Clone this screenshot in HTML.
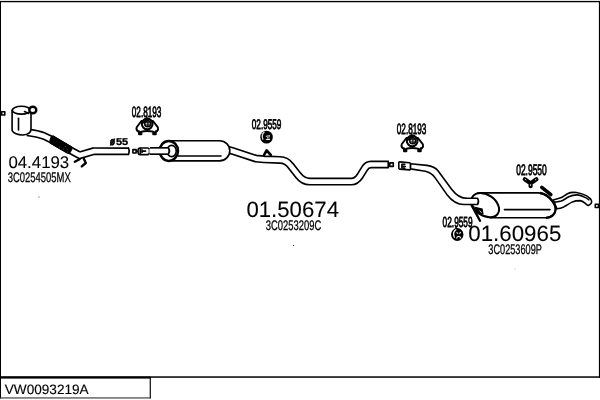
<!DOCTYPE html>
<html>
<head>
<meta charset="utf-8">
<title>VW0093219A</title>
<style>
html,body{margin:0;padding:0;background:#fff;}
body{width:600px;height:400px;overflow:hidden;position:relative;font-family:"Liberation Sans",sans-serif;}
svg{position:absolute;left:0;top:0;display:block;will-change:transform;}
svg text{font-family:"Liberation Sans",sans-serif;fill:#000;text-rendering:geometricPrecision;}
.t1{stroke:#000;stroke-width:0.8;}
.t2{stroke:#000;stroke-width:0.3;}
.t3{stroke:#000;stroke-width:0.08;}
.t4{stroke:#000;stroke-width:0.15;}
.po{fill:none;stroke:#000;stroke-width:8;stroke-linecap:butt;stroke-linejoin:round;}
.pi{fill:none;stroke:#fff;stroke-width:4.7;stroke-linecap:butt;stroke-linejoin:round;}
.l{fill:none;stroke:#000;stroke-width:1.6;stroke-linecap:round;stroke-linejoin:round;}
.lw{fill:#fff;stroke:#000;stroke-width:1.6;stroke-linecap:round;stroke-linejoin:round;}
.k{fill:none;stroke:#000;stroke-width:2.4;stroke-linecap:round;stroke-linejoin:round;}
</style>
</head>
<body>
<svg width="600" height="400" viewBox="0 0 600 400">
<!-- frame -->
<rect x="0" y="0.9" width="600" height="1.35" fill="#000"/>
<rect x="0" y="1" width="1" height="397.500" fill="#000"/>
<rect x="598.900" y="1" width="1.100" height="376.800" fill="#000"/>
<rect x="0" y="376.300" width="600" height="1.500" fill="#000"/>
<rect x="0" y="376.600" width="150.800" height="2" fill="#000"/>
<rect x="149.700" y="377" width="1.150" height="21.400" fill="#000"/>
<rect x="0" y="397.400" width="150.800" height="1.100" fill="#333"/>
<text x="4.8" y="393.8" font-size="13.6" class="t4">VW0093219A</text>

<!-- small edge squares -->
<rect x="1.6" y="111.8" width="3.2" height="3.2" class="lw" stroke-width="1"/>
<rect x="595.3" y="204.3" width="3.2" height="3.2" class="lw" stroke-width="1"/>
<rect x="38.5" y="196.500" width="1" height="1" fill="#444"/>
<rect x="293" y="245" width="1" height="1" fill="#111"/>
<rect x="514.600" y="268.600" width="0.900" height="0.900" fill="#999"/>

<!-- ===== front pipe (04.4193) ===== -->
<path class="po" d="M27,132.3 C33,133 39,134 44,136 L51.5,139.7 L70.3,150.3 L79.6,155.3 L93.6,151.2 L129,151.25"/>
<path class="pi" d="M27,132.3 C33,133 39,134 44,136 L51.5,139.7 L70.3,150.3 L79.6,155.3 L93.6,151.2 L128.6,151.25"/>
<path class="l" d="M128.6,148.1 Q130.2,151.25 128.6,154.4"/>
<!-- flex -->
<path d="M53.2,135.8 L71.4,146.6 L71.8,149.6 L69.6,153.4 L66.800,153 L49.800,143 L50,140 L51.200,136.600 Z" fill="#000" stroke="#000" stroke-width="1" stroke-linejoin="round"/>
<path d="M59.2,146.8 l0.6,0.4 M63.400,148.800 l0.6,0.4 M65.200,146.2 l0.600,0.4 M66.800,149.200 l0.600,0.300 M67.2,151.800 l0.500,0.300" stroke="#ccc" stroke-width="0.6" fill="none"/>
<!-- hanger bracket -->
<path class="k" d="M74.8,161.8 L79.6,159.2 M81.8,166.4 L85.8,163 L83.8,158.8" stroke-width="2.6"/>

<!-- catalytic / cylinder -->
<path class="lw" d="M12.1,110 L12.1,130.6 C13,133.2 18,135.2 23,135 C28,134.6 31,132.4 31,129 L31,112 Z"/>
<ellipse cx="21.4" cy="110.2" rx="9.1" ry="3.9" class="lw"/>
<ellipse cx="32.8" cy="110" rx="3.5" ry="3.3" fill="#fff" stroke="#000" stroke-width="2.4"/>
<path class="l" d="M24.5,111.6 L28.6,113.4"/>
<path class="l" d="M18.5,118.2 L18.5,130"/>

<!-- ø55 -->
<text x="109.900" y="144.800" font-size="11" font-weight="bold" font-style="italic" stroke="#000" stroke-width="0.800" textLength="5" lengthAdjust="spacingAndGlyphs">ø</text>
<text x="115.9" y="145.2" font-size="9.9" font-weight="bold" textLength="12.2" lengthAdjust="spacingAndGlyphs" class="t2">55</text>

<!-- connector + clamp 1 -->
<rect x="132.9" y="149.6" width="3.2" height="3.4" class="lw" stroke-width="1.4"/>
<path d="M136.800,151.300 L138,151.300" class="l" stroke-width="1.2"/>
<rect x="138.1" y="148" width="11.400" height="6.600" rx="2" class="lw" stroke-width="1.9"/>
<path class="l" d="M140.300,148.400 L140.300,154.200" stroke-width="1.100"/>
<path class="l" d="M142,151.100 L145.600,151.100 M142,149.900 L142,152.500" stroke-width="1.400"/>

<!-- pipe C -->
<path class="po" d="M226,149.1 L232,150.8 L256,158.6 L264,159.3 L280,159.9 C285,160 288,162 290.5,165.5 L298,175 C301,179 305,181.6 310,181.6 L351.5,181.6 C355,181.6 358,179 360,176 L364.6,168.5 C366,166 368,164.5 371,164.5 L388.6,164.5"/>
<path class="pi" d="M226,149.1 L232,150.8 L256,158.6 L264,159.3 L280,159.9 C285,160 288,162 290.5,165.5 L298,175 C301,179 305,181.6 310,181.6 L351.5,181.6 C355,181.6 358,179 360,176 L364.6,168.5 C366,166 368,164.5 371,164.5 L388.2,164.5"/>
<path class="l" d="M388.2,161.5 L388.2,167.5"/>
<!-- loop hanger on pipe -->
<path d="M264,155.2 L266.6,150.4 L270.8,155" fill="#fff" stroke="#000" stroke-width="2.6" stroke-linejoin="round" stroke-linecap="round"/>
<!-- ===== middle muffler (01.50674) ===== -->
<path class="lw" d="M168.7,140.7 L219.6,140.7 A10.2,10.1 0 0 1 219.6,160.9 L168.7,160.9 Z"/>
<path class="l" d="M178,156 L221,156"/>
<ellipse cx="168.8" cy="150.9" rx="9.2" ry="10" fill="#fff" stroke="#000" stroke-width="2.5"/>
<ellipse cx="171.6" cy="151" rx="4.6" ry="5.6" class="lw"/>
<path class="po" d="M150,151 L169,151" stroke-width="7"/>
<path class="pi" d="M149.4,151 L168.6,151" stroke-width="4.6"/>
<path class="l" d="M168.6,148.2 Q170.4,151 168.6,153.8"/>


<!-- connector + clamp 2 -->



<!-- ===== rear muffler (01.60965) ===== -->
<path class="lw" d="M478,192.9 L538.5,192.9 C544,193.4 549,196.5 552.5,201.25 C554.6,204 555.8,207 555.6,209.5 C555.4,213.5 552,217.8 546,217.8 L490,217.8 Z"/>
<path class="l" d="M504.4,209.6 L550,209.6"/>
<ellipse cx="485.25" cy="205.15" rx="15.2" ry="10.4" transform="rotate(35 485.25 205.15)" fill="#fff" stroke="#000" stroke-width="2"/>
<!-- pipe D (drawn over muffler face) -->
<path class="lw" stroke-width="1.65" d="M410.4,163.8 L427,165.4 C431,165.9 435,167 438,170.8 L451.8,189.4 C455,193.6 459,198.3 467,198.3 L477.6,198.3 Q479.4,201.4 477.6,204.5 L464,204.5 C457,204.5 451.5,200.5 446.8,194.4 L435,177.6 C432.5,174 429.5,172.2 425.4,171.2 L410.4,168.9 Z"/>
<!-- connector + clamp 2 -->
<rect x="389.800" y="162.900" width="3.500" height="3.500" class="lw" stroke-width="1.4"/>
<path d="M399.800,161.900 L409.400,162.700 Q410.400,162.800 410.400,163.800 L410.400,169 Q410.400,170 409.400,169.900 L399.800,169.100 Q398.800,169 398.800,168 L398.800,162.800 Q398.800,161.800 399.800,161.900 Z" class="lw" stroke-width="2"/>
<path class="l" d="M404.800,164.400 L401.900,164.200 L401.900,168 L404.800,168.200 M402,166.200 L405.200,166.500" stroke-width="1.900"/>
<!-- bracket -->
<path d="M471.6,205.2 L480,220.8" stroke="#000" stroke-width="2.4" fill="none" stroke-linecap="round"/>
<path d="M474,206.4 L482.6,208.6 L483.6,214.2 L477.6,214.2 Z" fill="#000"/>
<path d="M479.600,210.600 L481.600,212.800" stroke="#fff" stroke-width="0.8"/>

<!-- hanger on rear muffler top -->
<path d="M541.8,187.3 L550.8,194.6" stroke="#000" stroke-width="3.6" fill="none" stroke-linecap="round"/>

<!-- tail pipe -->
<path class="lw" d="M553.1,200 C556,199.4 558,198.8 560,198.1 C563,197 565,195 567.5,193.75 C570,192.4 573,192.2 576.25,192.5 C580,193 583,194 586.25,195.6 C588.5,197 590.5,198.5 591.25,200 C591.8,201.2 591.6,202.4 591.25,203.1 C590.5,204.4 589.5,205.2 588.1,205.6 C587,205 586,204 585,203.1 C583.5,201.8 582,200.8 580,200.6 C577,200.6 574.5,201 572.5,201.9 C569,203.6 566.5,205.6 563.75,206.9 C561.5,207.9 559,208.5 556.9,208.75 Z"/>
<path class="l" stroke-width="1.3" d="M553.1,202.4 C556,202.2 559,201.8 561.25,201.1 C564,200.1 566,198.1 568.75,196.75 C571.5,195.5 574.5,194.8 577.5,194.9 C580,195.1 582.5,196.1 585,197.4 C586.5,198.2 588,199 588.75,199.8"/>
<path d="M540,193 C544.600,193.600 549,196.500 552.5,201.250 C554.600,204 555.800,207 555.600,209.500 C555.400,213.500 552,217.800 546,217.800" fill="none" stroke="#000" stroke-width="2.3"/>

<!-- ===== rubber mounts 02.8193 ===== -->
<g transform="translate(-265,-17)">
<path d="M406.400,138 L401.700,144.300 Q400.900,146.600 402.800,148.300 L404,148.300 L404,151.200 L406.400,151.200 L406.400,148.700 Q412.200,147.200 418.200,148.700 L418.200,151.200 L420.800,151.200 L420.800,148.300 L421.900,148.300 Q423.700,146.600 422.900,144.300 L418,138 Z" fill="#fff" stroke="#000" stroke-width="1.900" stroke-linejoin="round"/>
<rect x="403.900" y="148.300" width="2.600" height="3" fill="#000"/>
<rect x="418.100" y="148.300" width="2.700" height="3" fill="#000"/>
<circle cx="412.200" cy="140.900" r="5.300" fill="#fff" stroke="#000" stroke-width="2.100"/>
<path d="M407.600,140.500 A4.700,4.700 0 0 1 414.500,136.600 L412.500,138.200 A3,3 0 0 0 409.600,140.600 Z" fill="#000"/>
<circle cx="412.700" cy="140.700" r="3" fill="none" stroke="#000" stroke-width="1.500"/>
<path d="M410.200,139.800 h4.800 M410.200,142 h5 M412.900,137.800 v6" stroke="#000" stroke-width="1.100" fill="none"/>
<path d="M411.800,132.800 L411.800,135" stroke="#000" stroke-width="1.200" fill="none"/>
</g>
<g>
<path d="M406.400,138 L401.700,144.300 Q400.900,146.600 402.800,148.300 L404,148.300 L404,151.200 L406.400,151.200 L406.400,148.700 Q412.200,147.200 418.200,148.700 L418.200,151.200 L420.800,151.200 L420.800,148.300 L421.900,148.300 Q423.700,146.600 422.900,144.300 L418,138 Z" fill="#fff" stroke="#000" stroke-width="1.900" stroke-linejoin="round"/>
<rect x="403.900" y="148.300" width="2.600" height="3" fill="#000"/>
<rect x="418.100" y="148.300" width="2.700" height="3" fill="#000"/>
<circle cx="412.200" cy="140.900" r="5.300" fill="#fff" stroke="#000" stroke-width="2.100"/>
<path d="M407.600,140.500 A4.700,4.700 0 0 1 414.500,136.600 L412.500,138.200 A3,3 0 0 0 409.600,140.600 Z" fill="#000"/>
<circle cx="412.700" cy="140.700" r="3" fill="none" stroke="#000" stroke-width="1.500"/>
<path d="M410.200,139.800 h4.800 M410.200,142 h5 M412.900,137.800 v6" stroke="#000" stroke-width="1.100" fill="none"/>
<path d="M411.800,132.800 L411.800,135" stroke="#000" stroke-width="1.200" fill="none"/>
</g>

<!-- ===== rubber rings 02.9559 ===== -->
<g>
<ellipse cx="266.550" cy="137.150" rx="6.250" ry="6.400" fill="#000"/>
<path d="M264.100,132.300 C262.400,133.800 261.800,136.600 262.900,139.200" stroke="#e8e8e8" stroke-width="1.200" fill="none" stroke-linecap="round"/>
<path d="M265.900,136.300 L270,135.700 M265.900,139.500 L270,139.500" stroke="#f0f0f0" stroke-width="1" fill="none"/>
<path d="M266.800,136.800 C267.800,137.400 267.800,138.400 266.800,139 M269.400,136.400 C268.600,137.200 268.600,138.400 269.400,139.200" stroke="#f0f0f0" stroke-width="0.800" fill="none"/>
</g>
<g>
<ellipse cx="457.250" cy="234.500" rx="6.200" ry="6.500" fill="#000"/>
<path d="M456,229.600 C453.800,231.200 452.900,234 454.400,237.200" stroke="#f0f0f0" stroke-width="1.300" fill="none" stroke-linecap="round"/>
<path d="M456.500,232.300 L458.200,233.700 M460.900,232.100 L459.300,233.700" stroke="#f0f0f0" stroke-width="1.100" fill="none"/>
<path d="M456.500,238.500 C457,235.700 460.400,235.700 460.900,238.500" stroke="#f0f0f0" stroke-width="1.100" fill="none"/>
</g>
<path class="l" d="M455.8,226.6 L456.2,228.6" stroke-width="1"/>

<!-- Y rubber 02.9550 -->
<path d="M524.8,179.200 L530.6,183.4 L530.6,186.200 M536.4,179.200 L530.6,183.4" stroke="#000" stroke-width="4.2" fill="none" stroke-linecap="round" stroke-linejoin="round"/>
<path d="M525.2,179.400 l0.700,0.500 M536,179.400 l-0.700,0.500 M530.600,184.600 l0,1" stroke="#fff" stroke-width="0.800" fill="none" stroke-linecap="round"/>

<!-- ===== texts ===== -->
<text x="131.8" y="116.9" font-size="15" textLength="29.6" lengthAdjust="spacingAndGlyphs" class="t1">02.8193</text>
<text x="396.8" y="133.9" font-size="15" textLength="29.6" lengthAdjust="spacingAndGlyphs" class="t1">02.8193</text>
<text x="251.8" y="128.9" font-size="13.8" textLength="29.6" lengthAdjust="spacingAndGlyphs" class="t1">02.9559</text>
<text x="442.6" y="226.6" font-size="14.6" textLength="30" lengthAdjust="spacingAndGlyphs" class="t1">02.9559</text>
<text x="516.2" y="174.9" font-size="15.2" textLength="30.6" lengthAdjust="spacingAndGlyphs" class="t1">02.9550</text>

<text x="8.4" y="168" font-size="17" textLength="60.8" lengthAdjust="spacingAndGlyphs" class="t3">04.4193</text>
<text x="7.7" y="181.7" font-size="13.8" textLength="63" lengthAdjust="spacingAndGlyphs" class="t2">3C0254505MX</text>

<text x="246.400" y="217.2" font-size="22" textLength="92.6" lengthAdjust="spacingAndGlyphs" class="t3">01.50674</text>
<text x="265.8" y="229.900" font-size="13.8" textLength="55.4" lengthAdjust="spacingAndGlyphs" class="t2">3C0253209C</text>

<text x="468.3" y="241.100" font-size="22" textLength="93" lengthAdjust="spacingAndGlyphs" class="t3">01.60965</text>
<text x="488.3" y="254.400" font-size="13.8" textLength="53.600" lengthAdjust="spacingAndGlyphs" class="t2">3C0253609P</text>
</svg>
</body>
</html>
